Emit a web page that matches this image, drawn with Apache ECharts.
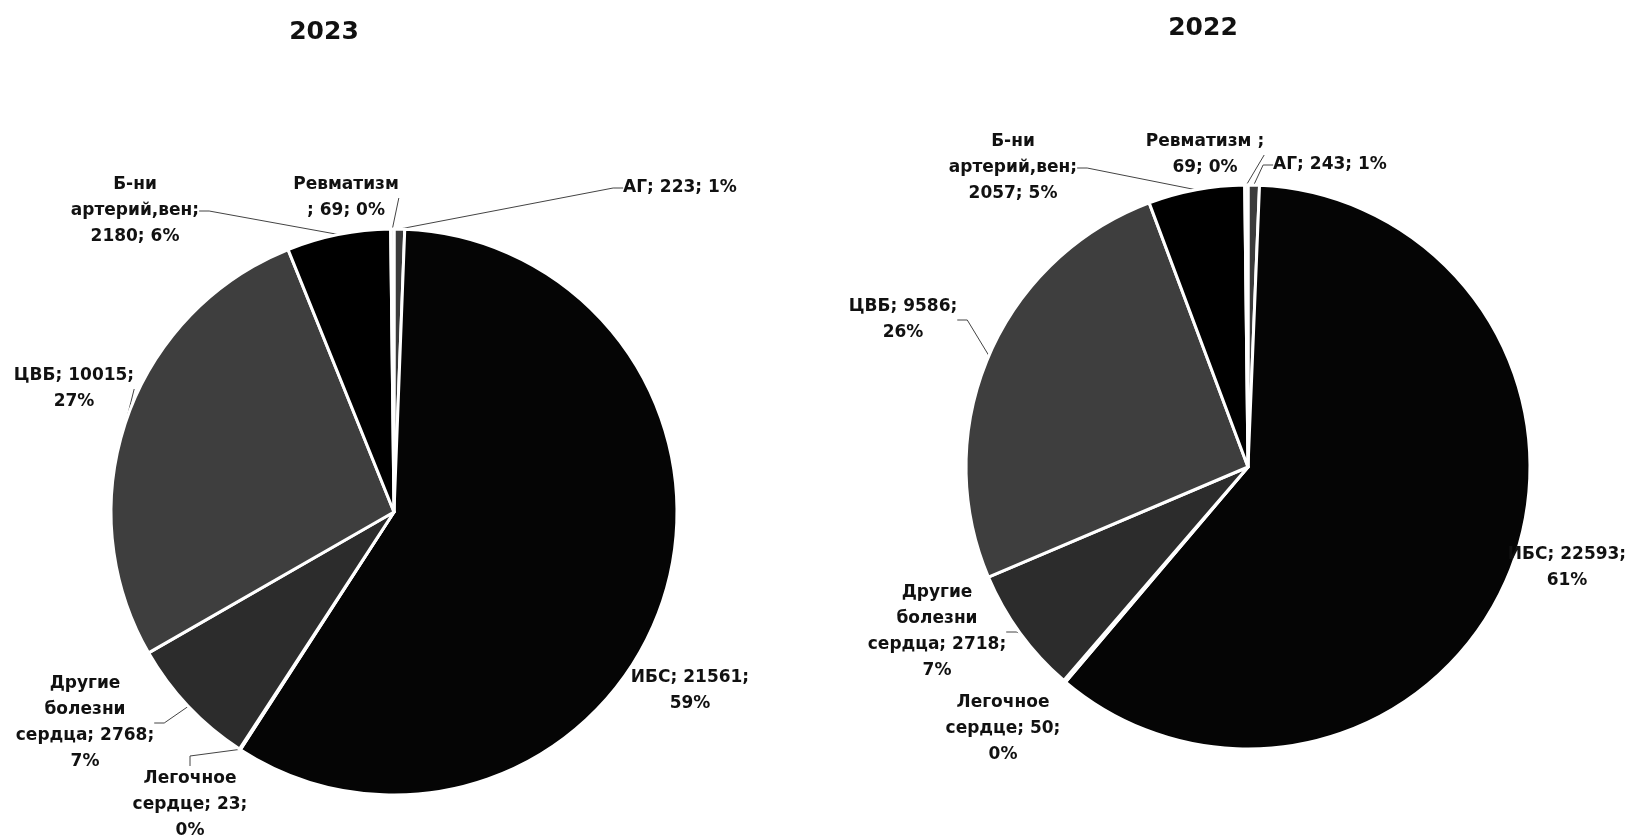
<!DOCTYPE html>
<html>
<head>
<meta charset="utf-8">
<script src="https://cdn.jsdelivr.net/npm/echarts@6/dist/echarts.min.js"></script>
<style>
html,body{margin:0;padding:0;background:#fff;}
#chart{width:1630px;height:838px;}
</style>
</head>
<body>
<div id="chart"></div>
<script>
// ---- data ----
const categories = ['АГ', 'ИБС', 'Легочное сердце', 'Другие болезни сердца', 'ЦВБ', 'Б-ни артерий,вен', 'Ревматизм '];
const values2023 = [223, 21561, 23, 2768, 10015, 2180, 69];
const values2022 = [243, 22593, 50, 2718, 9586, 2057, 69];
const titles = ['2023', '2022'];

// ---- layout / style (not data) ----
const sliceColors = ['#3b3b3b', '#050505', '#8a8a8a', '#2c2c2c', '#3e3e3e', '#000000', '#e2e2e2'];
// word counts after which a line break is placed in each label
const breaks2023 = [[], [2], [1, 3], [1, 2, 4], [2], [1, 2], [1]];
const breaks2022 = [[], [2], [1, 3], [1, 2, 4], [2], [1, 2], [2]];
// label block centres
const labelPos2023 = [[680, 188], [690, 691], [190, 805], [85, 723], [74, 389], [135, 211], [346, 198]];
const labelPos2022 = [[1330, 165], [1567, 568], [1003, 729], [937, 632], [903, 320], [1013, 168], [1205, 155]];
const hideLine2023 = [1];
const hideLine2022 = [1, 2];

const FONT = '"DejaVu Sans", sans-serif';

function makeFormatter(breaks) {
  return function (p) {
    const words = (p.name + '; ' + p.value + '; ' + p.percent + '%').split(' ').filter(w => w.length);
    const br = breaks[p.dataIndex];
    const lines = [];
    let cur = [];
    words.forEach((w, i) => {
      cur.push(w);
      if (br.indexOf(i + 1) >= 0) { lines.push(cur.join(' ')); cur = []; }
    });
    if (cur.length) lines.push(cur.join(' '));
    return lines.join('\n');
  };
}

function makeSeries(values, center, radius, breaks, pos, hide) {
  return {
    type: 'pie',
    center: center,
    radius: radius,
    startAngle: 90,
    clockwise: true,
    avoidLabelOverlap: false,
    percentPrecision: 0,
    animation: false,
    itemStyle: { borderColor: '#ffffff', borderWidth: 3 },
    label: {
      show: true,
      position: 'outside',
      formatter: makeFormatter(breaks),
      fontFamily: FONT,
      fontWeight: 'bold',
      fontSize: 17,
      lineHeight: 26,
      color: '#111111',
      align: 'center'
    },
    labelLine: { show: true, length: 10, length2: 10, lineStyle: { color: '#444444', width: 1 } },
    labelLayout: function (params) {
      const p = pos[params.dataIndex];
      return { x: p[0], y: p[1], align: 'center', verticalAlign: 'middle' };
    },
    data: categories.map((name, i) => ({
      name: name,
      value: values[i],
      itemStyle: { color: sliceColors[i] },
      labelLine: { show: hide.indexOf(i) < 0 }
    }))
  };
}

const chart = echarts.init(document.getElementById('chart'), null, { renderer: 'canvas' });
chart.setOption({
  backgroundColor: '#ffffff',
  animation: false,
  title: [
    { text: titles[0], left: 319, top: 27, textAlign: 'center', textVerticalAlign: 'middle',
      textStyle: { fontFamily: FONT, fontWeight: 'bold', fontSize: 25, color: '#111' } },
    { text: titles[1], left: 1198, top: 23, textAlign: 'center', textVerticalAlign: 'middle',
      textStyle: { fontFamily: FONT, fontWeight: 'bold', fontSize: 25, color: '#111' } }
  ],
  series: [
    makeSeries(values2023, [394, 512], 283, breaks2023, labelPos2023, hideLine2023),
    makeSeries(values2022, [1248, 467], 282, breaks2022, labelPos2022, hideLine2022)
  ]
});
</script>
</body>
</html>
